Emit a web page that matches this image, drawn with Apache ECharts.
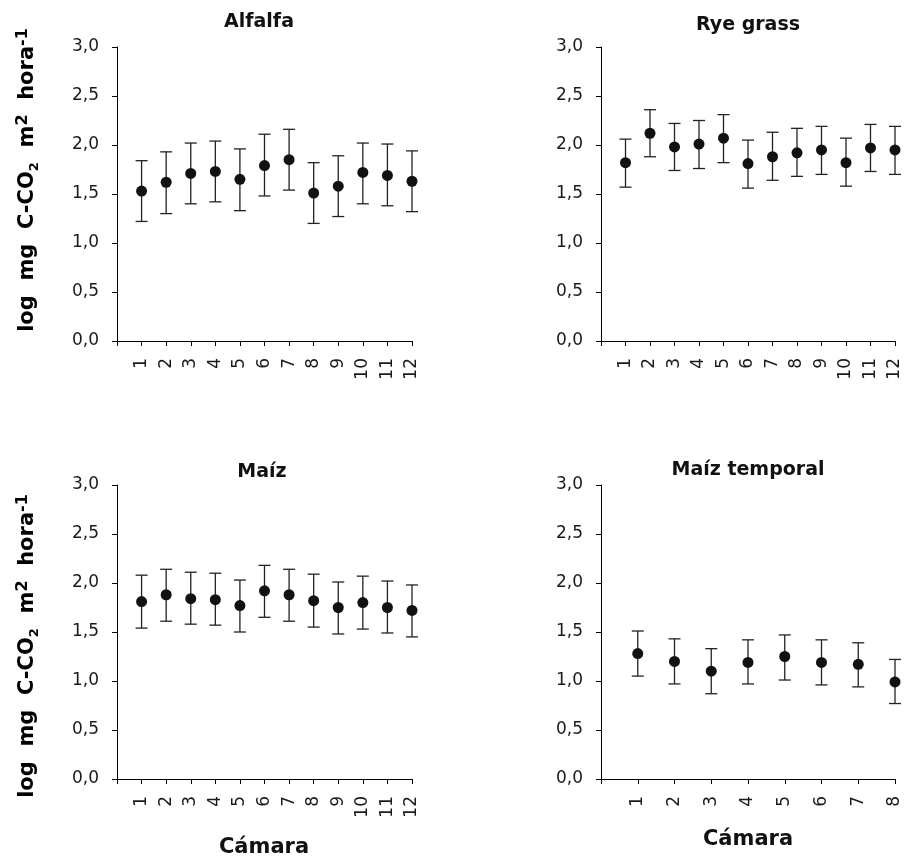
<!DOCTYPE html>
<html>
<head>
<meta charset="utf-8">
<script src="https://cdn.jsdelivr.net/npm/echarts@6/dist/echarts.min.js"></script>
<style>
  html, body { margin: 0; padding: 0; background: #fff; }
  #chart { width: 905px; height: 868px; }
</style>
</head>
<body>
<div id="chart"></div>
<script>
// valores (media y limites de la barra de error)
var alfalfaMean = [1.53, 1.62, 1.71, 1.73, 1.65, 1.79, 1.85, 1.51, 1.58, 1.72, 1.69, 1.63];
var alfalfaHi   = [1.84, 1.93, 2.02, 2.04, 1.96, 2.11, 2.16, 1.82, 1.89, 2.02, 2.01, 1.94];
var alfalfaLo   = [1.22, 1.30, 1.40, 1.42, 1.33, 1.48, 1.54, 1.20, 1.27, 1.40, 1.38, 1.32];

var ryeMean = [1.82, 2.12, 1.98, 2.01, 2.07, 1.81, 1.88, 1.92, 1.95, 1.82, 1.97, 1.95];
var ryeHi   = [2.06, 2.36, 2.22, 2.25, 2.31, 2.05, 2.13, 2.17, 2.19, 2.07, 2.21, 2.19];
var ryeLo   = [1.57, 1.88, 1.74, 1.76, 1.82, 1.56, 1.64, 1.68, 1.70, 1.58, 1.73, 1.70];

var maizMean = [1.81, 1.88, 1.84, 1.83, 1.77, 1.92, 1.88, 1.82, 1.75, 1.80, 1.75, 1.72];
var maizHi   = [2.08, 2.14, 2.11, 2.10, 2.03, 2.18, 2.14, 2.09, 2.01, 2.07, 2.02, 1.98];
var maizLo   = [1.54, 1.61, 1.58, 1.57, 1.50, 1.65, 1.61, 1.55, 1.48, 1.53, 1.49, 1.45];

var temporalMean = [1.28, 1.20, 1.10, 1.19, 1.25, 1.19, 1.17, 0.99];
var temporalHi   = [1.51, 1.43, 1.33, 1.42, 1.47, 1.42, 1.39, 1.22];
var temporalLo   = [1.05, 0.97, 0.87, 0.97, 1.01, 0.96, 0.94, 0.77];

var camaras12 = [1, 2, 3, 4, 5, 6, 7, 8, 9, 10, 11, 12];
var camaras8 = [1, 2, 3, 4, 5, 6, 7, 8];

var titulos = ['Alfalfa', 'Rye grass', 'Maíz', 'Maíz temporal'];

var FONT = 'DejaVu Sans';

var panels = [
	{ cam: camaras12, mean: alfalfaMean, hi: alfalfaHi, lo: alfalfaLo, grid: { left: 117, top: 47, width: 295, height: 294 } },
	{ cam: camaras12, mean: ryeMean, hi: ryeHi, lo: ryeLo, grid: { left: 601, top: 47, width: 294, height: 294 } },
	{ cam: camaras12, mean: maizMean, hi: maizHi, lo: maizLo, grid: { left: 117, top: 485, width: 295, height: 294 } },
	{ cam: camaras8, mean: temporalMean, hi: temporalHi, lo: temporalLo, grid: { left: 601, top: 485, width: 294, height: 294 } }
];

var chart = echarts.init(document.getElementById('chart'));

var grids = [], xAxes = [], yAxes = [], series = [];

panels.forEach(function(p, i) {
	grids.push(p.grid);
	xAxes.push({
		type: 'value',
		gridIndex: i,
		min: 0,
		max: p.cam.length,
		interval: 1,
		splitLine: { show: false },
		axisLine: { show: true, lineStyle: { color: '#000', width: 1 } },
		axisTick: { show: true, length: 5, lineStyle: { color: '#000' } },
		axisLabel: {
			rotate: 90,
			margin: 17,
			color: '#1a1a1a',
			fontFamily: FONT,
			fontSize: 17,
			formatter: function(v) { return v === 0 ? '' : String(v); }
		}
	});
	yAxes.push({
		type: 'value',
		gridIndex: i,
		min: 0,
		max: 3,
		interval: 0.5,
		splitLine: { show: false },
		axisLine: { show: true, lineStyle: { color: '#000', width: 1 } },
		axisTick: { show: true, length: 5, lineStyle: { color: '#000' } },
		axisLabel: {
			margin: 18,
			color: '#1a1a1a',
			fontFamily: FONT,
			fontSize: 17,
			formatter: function(v) { return v.toFixed(1).replace('.', ','); }
		}
	});

	var barData = p.cam.map(function(c, k) { return [c, p.lo[k], p.hi[k]]; });
	var ptData = p.cam.map(function(c, k) { return [c, p.mean[k]]; });

	series.push({
		type: 'custom',
		xAxisIndex: i,
		yAxisIndex: i,
		data: barData,
		encode: { x: 0, y: [1, 2] },
		silent: true,
		renderItem: function(params, api) {
			var x = api.value(0);
			var lo = api.coord([x, api.value(1)]);
			var hi = api.coord([x, api.value(2)]);
			var w = 6;
			var st = { stroke: '#222', lineWidth: 1.3 };
			return {
				type: 'group',
				children: [
					{ type: 'line', shape: { x1: hi[0], y1: hi[1], x2: lo[0], y2: lo[1] }, style: st },
					{ type: 'line', shape: { x1: hi[0] - w, y1: hi[1], x2: hi[0] + w, y2: hi[1] }, style: st },
					{ type: 'line', shape: { x1: lo[0] - w, y1: lo[1], x2: lo[0] + w, y2: lo[1] }, style: st }
				]
			};
		},
		z: 2
	});
	series.push({
		type: 'scatter',
		xAxisIndex: i,
		yAxisIndex: i,
		data: ptData,
		symbol: 'circle',
		symbolSize: 11,
		itemStyle: { color: '#111', opacity: 1 },
		z: 3
	});
});

// textos: titulos, nombre de eje y, "Cámara"
var yName = '{b|log  mg  C-CO}{s|2}{b|  m}{p|2}{b|  hora}{p|-1}';
var yRich = {
	b: { fontFamily: FONT, fontWeight: 'bold', fontSize: 21, color: '#111', lineHeight: 26 },
	s: { fontFamily: FONT, fontWeight: 'bold', fontSize: 13, color: '#111', lineHeight: 14, verticalAlign: 'bottom' },
	p: { fontFamily: FONT, fontWeight: 'bold', fontSize: 16, color: '#111', lineHeight: 16, verticalAlign: 'top' }
};

function titleText(txt, x, y) {
	return {
		type: 'text', x: x, y: y,
		style: { text: txt, fontFamily: FONT, fontWeight: 'bold', fontSize: 19, fill: '#111', textAlign: 'center', textVerticalAlign: 'middle' }
	};
}

var graphics = [
	titleText(titulos[0], 259, 22),
	titleText(titulos[1], 748, 25),
	titleText(titulos[2], 262, 472),
	titleText(titulos[3], 748, 470),
	{ type: 'text', x: 28, y: 180, rotation: Math.PI / 2,
	  style: { text: yName, rich: yRich, textAlign: 'center', textVerticalAlign: 'middle' } },
	{ type: 'text', x: 28, y: 646, rotation: Math.PI / 2,
	  style: { text: yName, rich: yRich, textAlign: 'center', textVerticalAlign: 'middle' } },
	{ type: 'text', x: 264, y: 848,
	  style: { text: 'Cámara', fontFamily: FONT, fontWeight: 'bold', fontSize: 21, fill: '#111', textAlign: 'center', textVerticalAlign: 'middle' } },
	{ type: 'text', x: 748, y: 840,
	  style: { text: 'Cámara', fontFamily: FONT, fontWeight: 'bold', fontSize: 21, fill: '#111', textAlign: 'center', textVerticalAlign: 'middle' } }
];

chart.setOption({
	backgroundColor: '#fff',
	animation: false,
	grid: grids,
	xAxis: xAxes,
	yAxis: yAxes,
	series: series,
	graphic: graphics
});
</script>
</body>
</html>
